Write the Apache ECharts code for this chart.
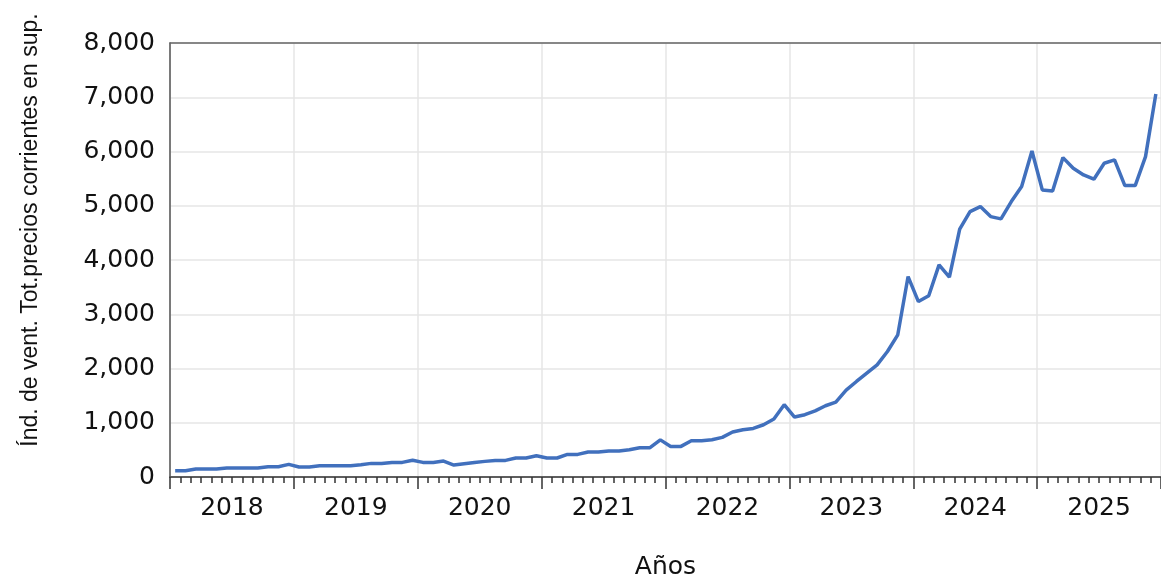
<!DOCTYPE html>
<html>
<head>
<meta charset="utf-8">
<script src="https://cdn.jsdelivr.net/npm/echarts@6/dist/echarts.min.js"></script>
<style>
html,body{margin:0;padding:0;background:#fff;}
#chart{width:1161px;height:579px;}
</style>
</head>
<body>
<div id="chart"></div>
<script>
const years = ['2018','2019','2020','2021','2022','2023','2024','2025'];
const months = [];
years.forEach(function(y){ for (let m = 1; m <= 12; m++) months.push(y + '-' + (m < 10 ? '0' + m : m)); });

const values = [
  116, 116, 147, 147, 147, 166, 166, 166, 166, 190, 190, 232,
  184, 184, 208, 208, 208, 208, 227, 251, 251, 269, 269, 310,
  269, 269, 294, 221, 245, 269, 288, 306, 306, 350, 350, 392,
  350, 350, 417, 417, 460, 460, 479, 479, 503, 540, 540, 684,
  562, 564, 669, 669, 687, 730, 829, 871, 896, 963, 1068, 1332,
  1105, 1148, 1218, 1313, 1381, 1600, 1761, 1915, 2068, 2314, 2621, 3695,
  3234, 3340, 3910, 3684, 4568, 4893, 4985, 4800, 4758, 5077, 5353, 6010,
  5292, 5273, 5887, 5692, 5568, 5489, 5784, 5845, 5371, 5371, 5905, 7060
];

const yTitle = 'Índ. de vent. Tot.precios corrientes en sup.';
const xTitle = 'Años';

const chart = echarts.init(document.getElementById('chart'));
const tickFont = 'DejaVu Sans';
chart.setOption({
  animation: false,
  backgroundColor: '#ffffff',
  grid: { left: 170, right: 0, top: 43, bottom: 102, containLabel: false, outerBoundsMode: 'none' },
  xAxis: [
    {
      type: 'category', data: months, boundaryGap: true, position: 'bottom',
      axisLine: { show: true, lineStyle: { color: '#555', width: 1.5 } },
      axisTick: { show: true, interval: 0, length: 6, lineStyle: { color: '#333', width: 1.5 } },
      axisLabel: { show: false },
      splitLine: { show: false }
    },
    {
      type: 'category', data: years, boundaryGap: true, position: 'bottom',
      name: xTitle, nameLocation: 'middle', nameGap: 78,
      nameTextStyle: { fontFamily: tickFont, fontSize: 25, color: '#111' },
      axisLine: { show: true, lineStyle: { color: '#555', width: 1.5 } },
      axisTick: { show: true, interval: 0, length: 12, lineStyle: { color: '#333', width: 1.5 } },
      axisLabel: { show: true, interval: 0, margin: 19, fontFamily: tickFont, fontSize: 25, color: '#111' },
      splitLine: { show: true, interval: 0, lineStyle: { color: '#e6e6e6', width: 1.5 } }
    },
    {
      type: 'category', data: years, position: 'top',
      axisLine: { show: true, lineStyle: { color: '#666', width: 1.5 } },
      axisTick: { show: false }, axisLabel: { show: false }, splitLine: { show: false }
    }
  ],
  yAxis: {
    type: 'value', min: 0, max: 8000, interval: 1000,
    name: yTitle, nameLocation: 'middle', nameGap: 128,
    nameTextStyle: { fontFamily: "'Liberation Sans', Arial, sans-serif", fontSize: 23, color: '#111', padding: [0, 0, 0, 60] },
    axisLine: { show: true, lineStyle: { color: '#555', width: 1.5 } },
    axisTick: { show: false },
    axisLabel: {
      margin: 15, fontFamily: tickFont, fontSize: 25, color: '#111', padding: [0, 0, 6, 0],
      formatter: function (v) { return v.toLocaleString('en-US'); }
    },
    splitLine: { show: true, lineStyle: { color: '#e6e6e6', width: 1.5 } }
  },
  series: [{
    type: 'line', xAxisIndex: 0, data: values, symbol: 'none',
    lineStyle: { color: '#4170bd', width: 3.5 }
  }]
});
</script>
</body>
</html>
